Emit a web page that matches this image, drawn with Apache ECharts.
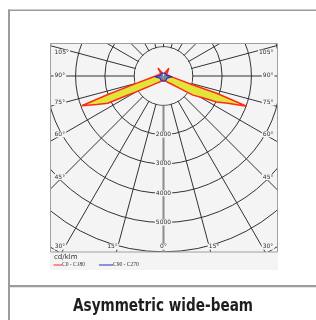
<!DOCTYPE html>
<html>
<head>
<meta charset="utf-8">
<script src="https://cdn.jsdelivr.net/npm/echarts@6/dist/echarts.min.js"></script>
<style>
html, body { margin: 0; padding: 0; background: #fff; }
#main { width: 316px; height: 320px; }
</style>
</head>
<body>
<div id="main"></div>
<script>
// 配光曲线 cd/klm，gamma 角从正下方 0° 起算
var gammaC180 = [0, 15, 30, 45, 52, 56, 60, 62, 64, 67, 70, 71.5, 75, 80, 90, 100, 120, 135, 145, 155, 170, 180];
var valueC180 = [135, 180, 225, 355, 517, 704, 1080, 1420, 2120, 2480, 2970, 2040, 940, 500, 270, 190, 140, 130, 330, 120, 70, 60];

var gammaC0 = [0, 15, 29, 45, 52, 57, 61, 64, 67, 70, 72, 73, 80, 90, 100, 120, 135, 145, 155, 170, 180];
var valueC0 = [135, 175, 223, 398, 641, 1198, 1532, 2017, 2383, 3017, 1909, 1052, 377, 199, 150, 130, 120, 320, 110, 70, 60];

var gammaC90 = [0, 30, 60, 80, 85, 90, 95, 100, 120, 150, 180];
var valueC90 = [190, 170, 140, 160, 300, 330, 250, 110, 100, 110, 100];

var radiusLabels = [2000, 3000, 4000, 5000];
var sideLabels = ['105°', '90°', '75°', '60°', '45°'];
var bottomLabels = ['30°', '15°', '0°', '15°', '30°'];

var bg = '#f4f4f4';
var gridColor = '#333333';

// C180 画在左边 (角度 = gamma)，C0 画在右边 (角度 = 360 - gamma)
function toPolar(gammas, values, mirror) {
    return gammas.map(function (g, i) {
        return [values[i], mirror ? 360 - g : g];
    });
}

var myChart = echarts.init(document.getElementById('main'));

var option = {
    backgroundColor: bg,
    animation: false,
    polar: {
        center: [163.5, 76],
        radius: 211
    },
    angleAxis: {
        type: 'value',
        min: 0,
        max: 360,
        interval: 15,
        startAngle: 270,
        clockwise: true,
        axisLine: { show: false },
        axisTick: { show: false },
        axisLabel: { show: false },
        splitLine: { show: true, lineStyle: { color: gridColor, width: 1 } }
    },
    radiusAxis: {
        type: 'value',
        min: 0,
        max: 7200,
        interval: 1000,
        axisLine: { show: false },
        axisTick: { show: false },
        axisLabel: { show: false },
        splitLine: { show: true, lineStyle: { color: gridColor, width: 1 } }
    },
    series: [
        {
            // 0° 轴线（加粗灰色）
            name: 'axis0',
            type: 'line',
            coordinateSystem: 'polar',
            silent: true,
            symbol: 'none',
            lineStyle: { color: '#8c8c8c', width: 2 },
            data: [[1000, 0], [7200, 0]]
        },
        {
            name: 'C180',
            type: 'line',
            coordinateSystem: 'polar',
            symbol: 'none',
            lineStyle: { color: '#ff2a1a', width: 1.5 },
            areaStyle: { color: '#e3e43a', opacity: 1 },
            data: toPolar(gammaC180, valueC180, false)
        },
        {
            name: 'C0',
            type: 'line',
            coordinateSystem: 'polar',
            symbol: 'none',
            lineStyle: { color: '#ff2a1a', width: 1.5 },
            areaStyle: { color: '#e3e43a', opacity: 1 },
            data: toPolar(gammaC0, valueC0, true)
        },
        {
            name: 'C90',
            type: 'line',
            coordinateSystem: 'polar',
            symbol: 'none',
            lineStyle: { color: '#2233bb', width: 1.2 },
            areaStyle: { color: '#7384ac', opacity: 1 },
            data: toPolar(gammaC90, valueC90, false)
        },
        {
            name: 'C270',
            type: 'line',
            coordinateSystem: 'polar',
            symbol: 'none',
            lineStyle: { color: '#2233bb', width: 1.2 },
            areaStyle: { color: '#7384ac', opacity: 1 },
            data: toPolar(gammaC90, valueC90, true)
        }
    ]
};
myChart.setOption(option);

// 用极坐标换算出像素位置，再画遮罩、标签、图例
var c = myChart.convertToPixel({ polarIndex: 0 }, [0, 0]);
var r1000 = myChart.convertToPixel({ polarIndex: 0 }, [1000, 0])[1] - c[1];

var plot = { x: 50.5, y: 43.5, w: 227, h: 208.5 };
var imgBottom = 270;
var graphics = [];

// 内圈（1000）里面不画网格线
graphics.push({ type: 'circle', silent: true, z: 1,
    shape: { cx: c[0], cy: c[1], r: r1000 - 0.6 }, style: { fill: bg } });

// 绘图区外的遮罩
var white = '#ffffff';
graphics.push({ type: 'rect', silent: true, z: 10, shape: { x: 0, y: 0, width: 316, height: plot.y }, style: { fill: white } });
graphics.push({ type: 'rect', silent: true, z: 10, shape: { x: 0, y: 0, width: plot.x - 0.5, height: 320 }, style: { fill: white } });
graphics.push({ type: 'rect', silent: true, z: 10, shape: { x: plot.x + plot.w + 0.5, y: 0, width: 60, height: 320 }, style: { fill: white } });
graphics.push({ type: 'rect', silent: true, z: 10, shape: { x: 0, y: imgBottom, width: 316, height: 60 }, style: { fill: white } });
graphics.push({ type: 'rect', silent: true, z: 10, shape: { x: plot.x - 0.5, y: plot.y + plot.h, width: plot.w + 1, height: imgBottom - plot.y - plot.h }, style: { fill: bg } });
graphics.push({ type: 'rect', silent: true, z: 11, shape: { x: plot.x, y: plot.y, width: plot.w, height: plot.h }, style: { fill: null, stroke: '#a0a0a0', lineWidth: 1 } });

var smallFont = { fontSize: 6, fontFamily: 'DejaVu Sans', fill: '#333' };

function label(text, x, y, align) {
    graphics.push({ type: 'text', silent: true, z: 12, x: x, y: y,
        style: { text: text, fontSize: smallFont.fontSize, fontFamily: smallFont.fontFamily, fill: smallFont.fill,
            align: align, verticalAlign: 'middle', backgroundColor: bg, padding: [0, 1] } });
}

// 左右两侧的角度标签
var sideY = [52.7, 75, 102.7, 134.3, 177];
sideLabels.forEach(function (t, i) {
    label(t, plot.x + 3, sideY[i], 'left');
    label(t, plot.x + plot.w - 3, sideY[i], 'right');
});
// 底部角度标签
var bottomX = [60, 112.5, 163.5, 214, 268];
bottomLabels.forEach(function (t, i) {
    label(t, bottomX[i], 246.7, 'center');
});
// 光强刻度
radiusLabels.forEach(function (v) {
    var p = myChart.convertToPixel({ polarIndex: 0 }, [v, 0]);
    label(String(v), p[0], p[1], 'center');
});

// 图例
graphics.push({ type: 'text', silent: true, z: 12, x: 54, y: 257.5,
    style: { text: 'cd/klm', fontSize: 7, fontFamily: 'DejaVu Sans', fill: '#333', verticalAlign: 'middle' } });
graphics.push({ type: 'line', silent: true, z: 12, shape: { x1: 53.5, y1: 265, x2: 62, y2: 265 }, style: { stroke: '#ff2a1a', lineWidth: 1 } });
graphics.push({ type: 'text', silent: true, z: 12, x: 62, y: 265,
    style: { text: 'C0 - C180', fontSize: 5.5, fontFamily: 'Liberation Serif', fill: '#333', verticalAlign: 'middle' } });
graphics.push({ type: 'line', silent: true, z: 12, shape: { x1: 99, y1: 265, x2: 113, y2: 265 }, style: { stroke: '#2233bb', lineWidth: 1 } });
graphics.push({ type: 'text', silent: true, z: 12, x: 113, y: 265,
    style: { text: 'C90 - C270', fontSize: 5.5, fontFamily: 'Liberation Serif', fill: '#333', verticalAlign: 'middle' } });

// 卡片边框与标题
var frame = '#9c9c9c';
graphics.push({ type: 'rect', silent: true, z: 12, shape: { x: 8, y: 9.5, width: 2, height: 320 }, style: { fill: frame } });
graphics.push({ type: 'rect', silent: true, z: 12, shape: { x: 8, y: 9.5, width: 316, height: 1.5 }, style: { fill: frame } });
graphics.push({ type: 'rect', silent: true, z: 12, shape: { x: 8, y: 285, width: 316, height: 2.2 }, style: { fill: frame } });
graphics.push({ type: 'text', silent: true, z: 12, x: 163, y: 306.5, scaleX: 0.89,
    style: { text: 'Asymmetric wide-beam', fontSize: 17, fontWeight: 'bold', fontFamily: '"Liberation Sans Narrow", "DejaVu Sans Condensed", sans-serif',
        fill: '#1e1e1e', align: 'center', verticalAlign: 'middle' } });

myChart.setOption({ graphic: { elements: graphics } });
</script>
</body>
</html>
